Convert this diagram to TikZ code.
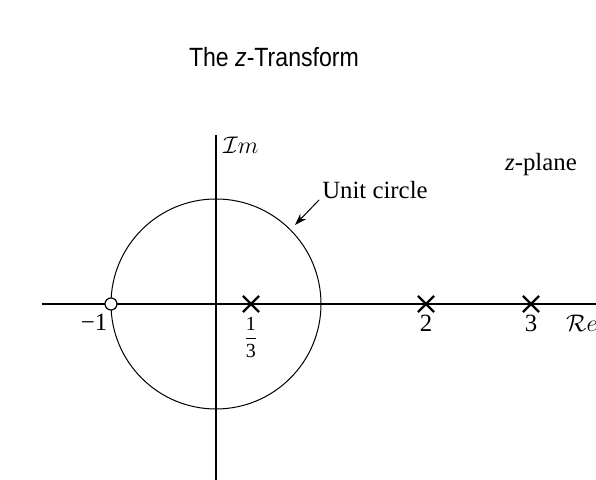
\documentclass[tikz,border=0pt]{standalone}
\usepackage{amsmath}
\usepackage{fontspec}
\setmainfont{Liberation Serif}
\newfontfamily\titlefont[FakeStretch=0.875]{Liberation Sans}
\usetikzlibrary{positioning,shapes.misc,arrows.meta}
\begin{document}
\begin{tikzpicture}[x=52.5pt,y=52.5pt,
    ax/.style={line width=0.6pt},
    pole/.style={draw,cross out,line width=1.1pt,minimum size=7pt,inner sep=0pt},
    zero/.style={draw,circle,fill=white,line width=0.6pt,minimum size=6pt,inner sep=0pt},
    lbl/.style={font=\fontsize{12.4}{14}\selectfont},
]

    \tikzset{
        node distance=1pt,
    }

    \useasboundingbox (-2.057,-1.676) rectangle (3.619,2.895);

    \node[font=\titlefont\fontsize{13.2}{15}\selectfont] (title) at (0.552,2.352) {The \textit{z}-Transform};

    \draw[line width=0.5pt] (0,0) circle (1);
    \draw[ax] (-1.657,0) -- (3.7,0);
    \draw[ax] (0,1.61) -- (0,-1.8);

    \node[zero] (zm1) at (-1,0) {};
    \node[pole] (p1) at (1/3,0) {};
    \node[pole] (p2) at (2,0) {};
    \node[pole] (p3) at (3,0) {};

    \node[lbl,below left=-1pt and -4pt of zm1] (lm1) {−1};
    \node[font=\fontsize{10}{12}\selectfont,below=-1pt of p1] (lp1) {$\dfrac{\text{1}}{\text{3}}$};
    \node[lbl,below=-2pt of p2] (lp2) {2};
    \node[lbl,below=-2pt of p3] (lp3) {3};
    \node[lbl,below right=-2pt and 10pt of p3] (relbl) {$\mathcal{R}e$};
    \node[lbl,anchor=west] (imlbl) at (0,1.514) {$\mathcal{I}m$};

    \node[lbl] (unitlbl) at (1.514,1.086) {Unit circle};
    \node[lbl] (planelbl) at (3.095,1.324) {\textit{z}-plane};

    \coordinate (uctip) at (0.752,0.752);
    \draw[line width=0.5pt,-{Stealth[length=6pt,width=4pt]}]
        ([xshift=2pt,yshift=3pt]unitlbl.south west) -- (uctip);

\end{tikzpicture}
\end{document}
